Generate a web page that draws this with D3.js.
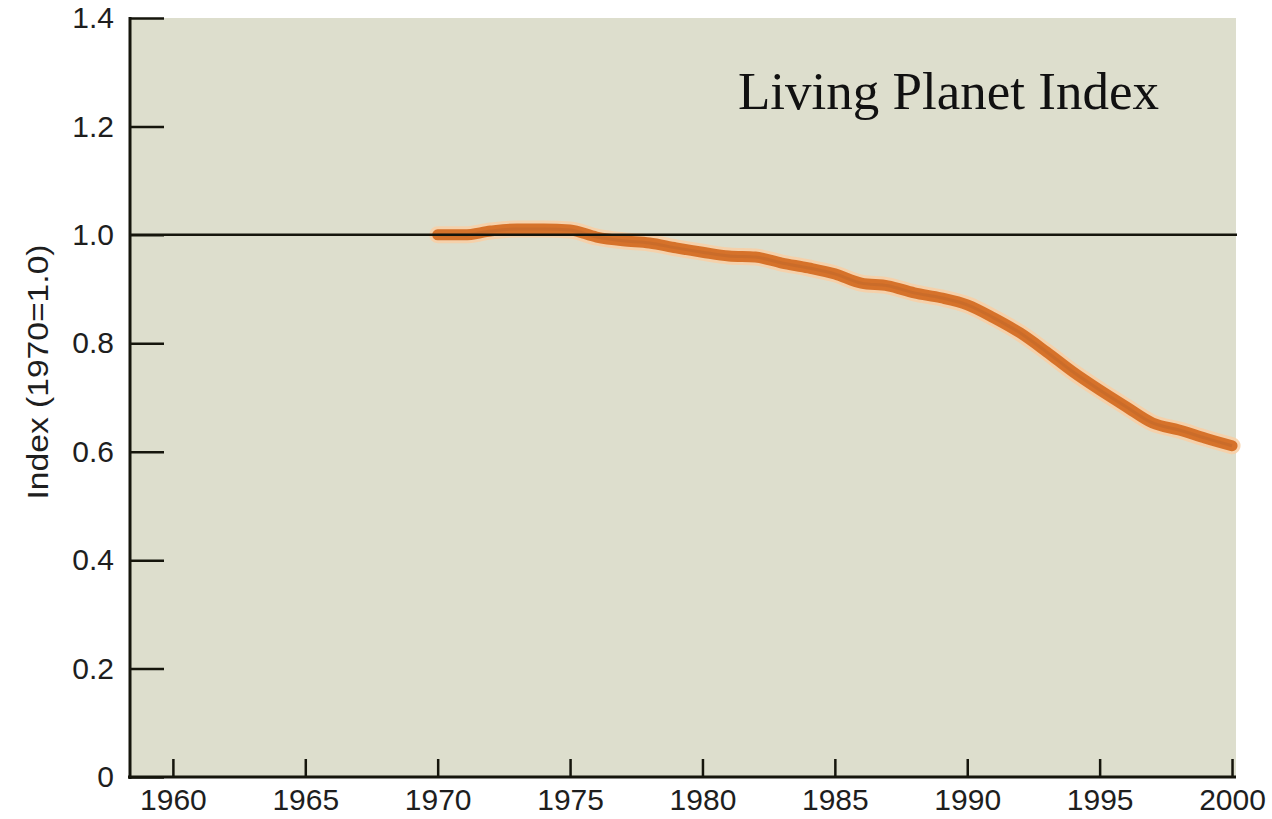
<!DOCTYPE html>
<html>
<head>
<meta charset="utf-8">
<script src="https://cdn.jsdelivr.net/npm/d3@7"></script>
<style>
  html, body { margin: 0; padding: 0; background: #ffffff; }
  svg { display: block; }
</style>
</head>
<body>
<svg id="chart" width="1272" height="819"></svg>
<script>
// ---- Data ----
const years = [1970,1971,1972,1973,1974,1975,1976,1977,1978,1979,1980,1981,1982,1983,1984,1985,1986,1987,1988,1989,1990,1991,1992,1993,1994,1995,1996,1997,1998,1999,2000];
const lpiValues = [1.000,1.000,1.007,1.011,1.011,1.009,0.996,0.989,0.985,0.976,0.968,0.961,0.959,0.948,0.939,0.928,0.911,0.906,0.893,0.884,0.871,0.847,0.819,0.784,0.747,0.714,0.683,0.653,0.640,0.625,0.611];
const xTicks = [1960,1965,1970,1975,1980,1985,1990,1995,2000];
const yTicks = [0,0.2,0.4,0.6,0.8,1.0,1.2,1.4];
const baselineValue = 1.0;
const chartTitle = "Living Planet Index";
const yAxisTitle = "Index (1970=1.0)";

// ---- Scales ----
const svg = d3.select("#chart");
const x = d3.scaleLinear().domain([1958.38, 2000.15]).range([130, 1236]);
const y = d3.scaleLinear().domain([0, 1.4]).range([777, 18]);

// background panel
svg.append("rect")
  .attr("x", x.range()[0]).attr("y", y(1.4))
  .attr("width", x.range()[1] - x.range()[0])
  .attr("height", y(0) - y(1.4))
  .attr("fill", "#dddecd");

// line data
const data = years.map((yr, i) => ({ year: yr, value: lpiValues[i] }));
const line = d3.line().x(d => x(d.year)).y(d => y(d.value)).curve(d3.curveMonotoneX);

svg.append("path").datum(data)
  .attr("d", line).attr("fill", "none")
  .attr("stroke", "#f9cfa4").attr("stroke-width", 17)
  .attr("stroke-linecap", "round").attr("stroke-linejoin", "round")
  .attr("opacity", 0.85);
svg.append("path").datum(data)
  .attr("d", line).attr("fill", "none")
  .attr("stroke", "#d6722a").attr("stroke-width", 11)
  .attr("stroke-linecap", "round").attr("stroke-linejoin", "round");
svg.append("path").datum(data)
  .attr("d", line).attr("fill", "none")
  .attr("stroke", "#b5602c").attr("stroke-width", 3)
  .attr("opacity", 0.35);

// 1.0 reference line
svg.append("line")
  .attr("x1", x.range()[0]).attr("x2", x.range()[1] + 1)
  .attr("y1", y(baselineValue)).attr("y2", y(baselineValue))
  .attr("stroke", "#15150c").attr("stroke-width", 2.5);

// ---- Axes ----
const fmt = v => v === 0 ? "0" : d3.format(".1f")(v);

const yAxis = svg.append("g")
  .attr("transform", `translate(${x.range()[0]},0)`)
  .call(d3.axisLeft(y).tickValues(yTicks).tickFormat(fmt)
        .tickSizeInner(-34).tickSizeOuter(0).tickPadding(16));

const xAxis = svg.append("g")
  .attr("transform", `translate(0,${y(0)})`)
  .call(d3.axisBottom(x).tickValues(xTicks).tickFormat(d3.format("d"))
        .tickSizeInner(-18).tickSizeOuter(0).tickPadding(12));

[yAxis, xAxis].forEach(g => {
  g.select(".domain").attr("stroke", "#15150c").attr("stroke-width", 3);
  g.selectAll(".tick line").attr("stroke", "#15150c").attr("stroke-width", 2.5);
  g.selectAll(".tick text")
    .attr("fill", "#1e1e1e")
    .style("font-family", "'Liberation Sans', Arial, sans-serif")
    .style("font-size", "30px");
});
yAxis.select(".domain").attr("d", `M0,${y(1.4) - 1}V${y(0) + 2}`);
xAxis.select(".domain").attr("d", `M${x.range()[0] - 2},0H${x.range()[1]}`);

// ---- Titles ----
svg.append("text")
  .attr("x", 738).attr("y", 109)
  .style("font-family", "'Liberation Serif', 'Times New Roman', serif")
  .style("font-size", "53px")
  .attr("fill", "#111")
  .text(chartTitle);

svg.append("text")
  .attr("transform", "translate(48,372) rotate(-90)")
  .attr("text-anchor", "middle")
  .style("font-family", "'Liberation Sans', Arial, sans-serif")
  .style("font-size", "30px")
  .attr("textLength", 255).attr("lengthAdjust", "spacingAndGlyphs")
  .attr("fill", "#1e1e1e")
  .text(yAxisTitle);
</script>
</body>
</html>
